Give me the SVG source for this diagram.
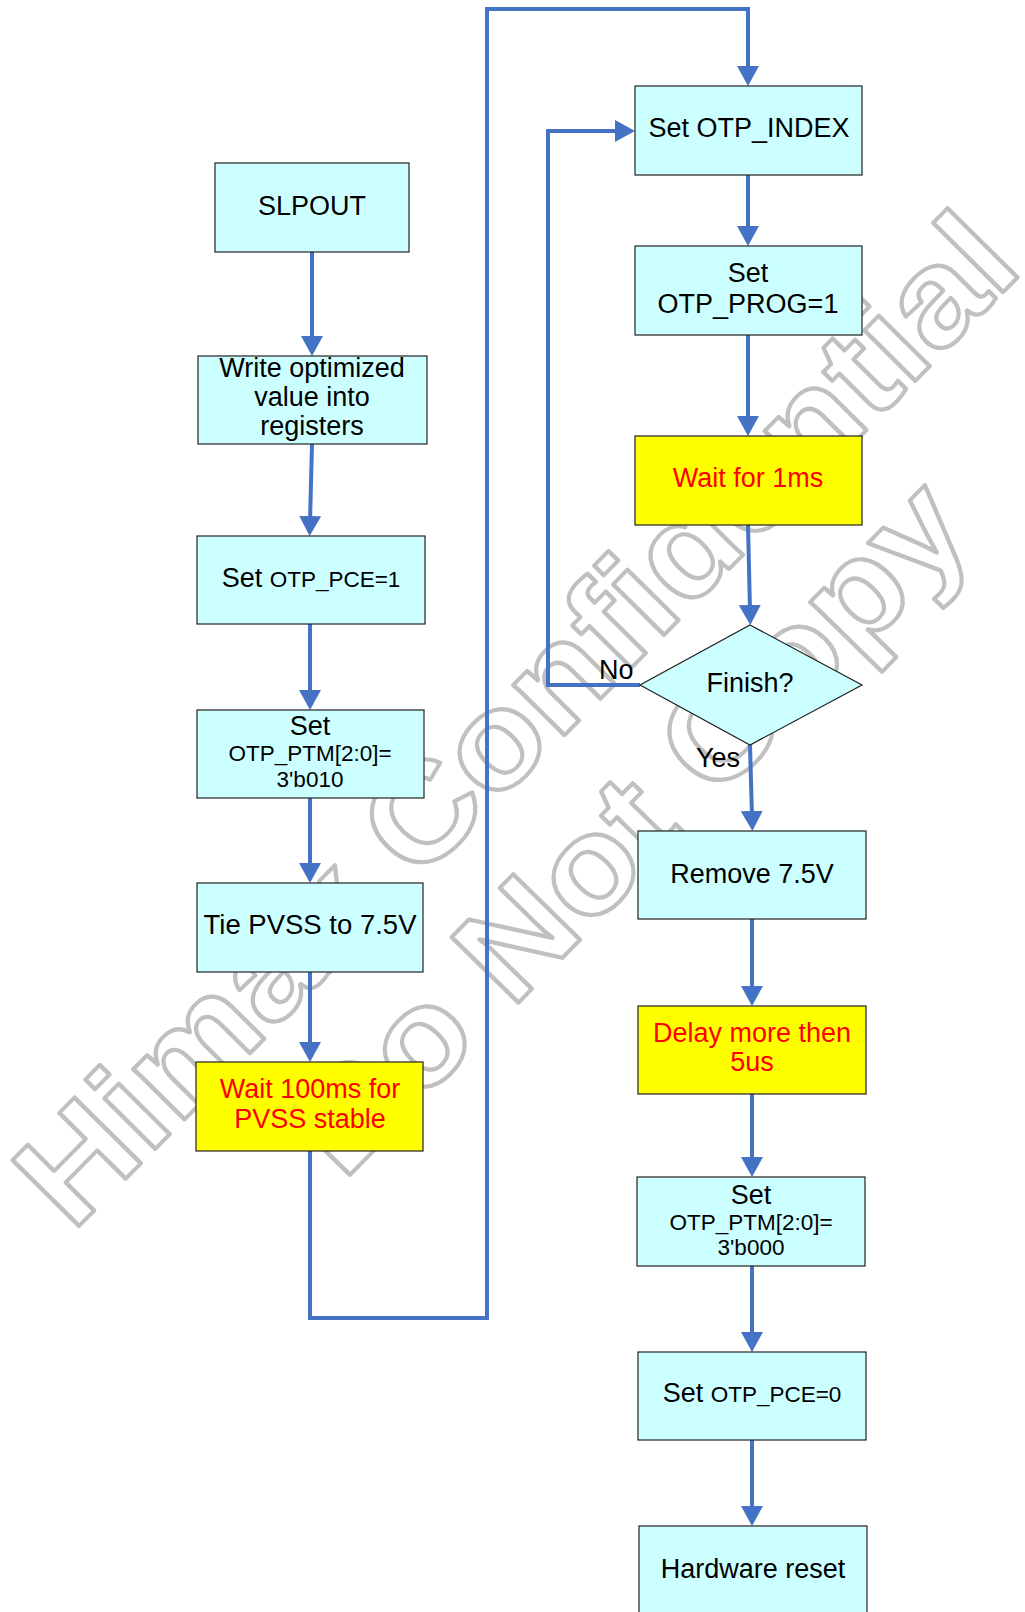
<svg xmlns="http://www.w3.org/2000/svg" width="1025" height="1612" viewBox="0 0 1025 1612">
<style>
.box{fill:#ccffff;stroke:#222;stroke-width:1.2}
.wait{fill:#ffff00;stroke:#222;stroke-width:1.2}
.t{font-family:"Liberation Sans",Arial,sans-serif;font-size:27px;fill:#000;text-anchor:middle}
.r{fill:#ff0000}
.s{font-size:22.5px}
.lbl{font-family:"Liberation Sans",Arial,sans-serif;font-size:27px;fill:#000}
.wm{font-family:"Liberation Sans",Arial,sans-serif;font-size:136px;font-weight:bold;fill:none;stroke:#c0c0c0;stroke-width:4;stroke-linejoin:round}
.c{fill:none;stroke:#4472c4;stroke-width:4;marker-end:url(#ah)}
</style>
<defs>
<marker id="ah" markerUnits="userSpaceOnUse" markerWidth="20" markerHeight="22" viewBox="0 0 20 22" refX="6" refY="11" orient="auto">
<path d="M0,0 L20,11 L0,22 z" fill="#4472c4"/>
</marker>
</defs>
<rect width="1025" height="1612" fill="#ffffff"/>
<g id="watermark">
<text class="wm" transform="translate(72,1233) rotate(-45.3) scale(1.1,1)">Himax Confidential</text>
<text class="wm" transform="translate(343,1182) rotate(-45.6) scale(1.1,1)">Do Not Copy</text>
</g>
<g id="connectors">
<path class="c" d="M312,252 L312,342"/>
<path class="c" d="M312,444 L310,522"/>
<path class="c" d="M310,624 L310,696"/>
<path class="c" d="M310,798 L310,869"/>
<path class="c" d="M310,972 L310,1048"/>
<path class="c" d="M310,1151 L310,1318 L487,1318 L487,9 L748,9 L748,72"/>
<path class="c" d="M748,175 L748,232"/>
<path class="c" d="M748,335 L748,422"/>
<path class="c" d="M748,525 L750,611"/>
<path class="c" d="M640,685 L548,685 L548,131 L621,131"/>
<path class="c" d="M750,745 L752,817"/>
<path class="c" d="M752,919 L752,992"/>
<path class="c" d="M752,1094 L752,1163"/>
<path class="c" d="M752,1266 L752,1338"/>
<path class="c" d="M752,1440 L752,1512"/>
<text class="lbl" x="599" y="679">No</text>
<text class="lbl" x="696" y="767">Yes</text>
</g>
<g id="slpout"><rect class="box" x="215" y="163" width="194" height="89"/><text class="t" x="312" y="215">SLPOUT</text></g>
<g id="write"><rect class="box" x="198" y="356" width="229" height="88"/><text class="t" x="312" y="377">Write optimized</text><text class="t" x="312" y="406">value into</text><text class="t" x="312" y="435">registers</text></g>
<g id="pce1"><rect class="box" x="197" y="536" width="228" height="88"/><text class="t" x="311" y="587">Set <tspan class="s">OTP_PCE=1</tspan></text></g>
<g id="ptm010"><rect class="box" x="197" y="710" width="227" height="88"/><text class="t" x="310" y="735">Set</text><text class="t s" x="310" y="761">OTP_PTM[2:0]=</text><text class="t s" x="310" y="787">3'b010</text></g>
<g id="tie"><rect class="box" x="197" y="883" width="226" height="89"/><text class="t" x="310" y="934" textLength="213" lengthAdjust="spacingAndGlyphs">Tie PVSS to 7.5V</text></g>
<g id="wait100"><rect class="wait" x="196" y="1062" width="227" height="89"/><text class="t r" x="310" y="1098">Wait 100ms for</text><text class="t r" x="310" y="1128">PVSS stable</text></g>
<g id="index"><rect class="box" x="635" y="86" width="227" height="89"/><text class="t" x="749" y="137">Set OTP_INDEX</text></g>
<g id="prog"><rect class="box" x="635" y="246" width="227" height="89"/><text class="t" x="748" y="282">Set</text><text class="t" x="748" y="313">OTP_PROG=1</text></g>
<g id="wait1"><rect class="wait" x="635" y="436" width="227" height="89"/><text class="t r" x="748" y="487">Wait for 1ms</text></g>
<g id="finish"><polygon class="box" points="750,625 862,685 750,745 640,685"/><text class="t" x="750" y="692">Finish?</text></g>
<g id="remove"><rect class="box" x="638" y="831" width="228" height="88"/><text class="t" x="752" y="883">Remove 7.5V</text></g>
<g id="delay"><rect class="wait" x="638" y="1006" width="228" height="88"/><text class="t r" x="752" y="1042">Delay more then</text><text class="t r" x="752" y="1071">5us</text></g>
<g id="ptm000"><rect class="box" x="637" y="1177" width="228" height="89"/><text class="t" x="751" y="1204">Set</text><text class="t s" x="751" y="1230">OTP_PTM[2:0]=</text><text class="t s" x="751" y="1255">3'b000</text></g>
<g id="pce0"><rect class="box" x="638" y="1352" width="228" height="88"/><text class="t" x="752" y="1402">Set <tspan class="s">OTP_PCE=0</tspan></text></g>
<g id="hwreset"><rect class="box" x="639" y="1526" width="228" height="100"/><text class="t" x="753" y="1578">Hardware reset</text></g>
</svg>
